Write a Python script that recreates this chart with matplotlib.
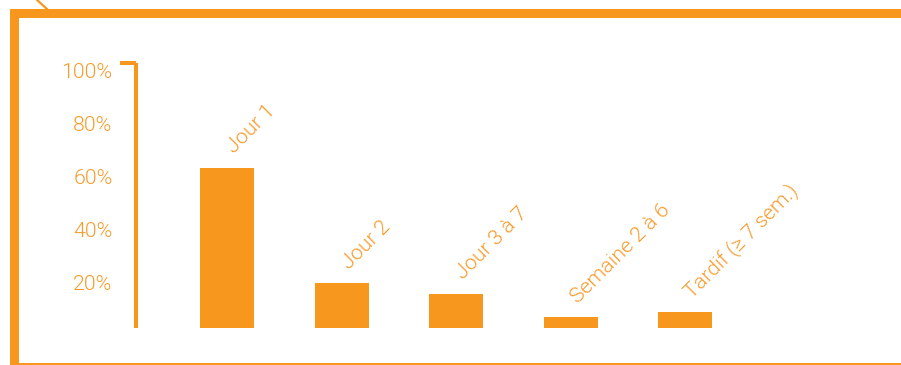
import matplotlib.pyplot as plt
from matplotlib.patches import Rectangle
from matplotlib.lines import Line2D
import matplotlib.transforms as mtransforms

# données
categories = ['Jour 1', 'Jour 2', 'Jour 3 à 7', 'Semaine 2 à 6', 'Tardif (≥ 7 sem.)']
valeurs = [60.5, 17, 13, 4, 6]
yticks = [20, 40, 60, 80, 100]
ytick_labels = ['20%', '40%', '60%', '80%', '100%']

orange = '#F7971E'
orange_txt = '#F79A2A'
poids = 300
taille = 15.3

plt.rcParams['font.family'] = ['Roboto', 'DejaVu Sans']

W, H = 901, 365
fig = plt.figure(figsize=(W / 100, H / 100), dpi=100)

def fx(px):
    return px / W

def fy(py):
    return 1 - py / H

# cadre
fig.patches.append(Rectangle((fx(10), fy(363)), fx(9), (363 - 9) / H,
                             transform=fig.transFigure, color=orange, lw=0))
fig.patches.append(Rectangle((fx(10), fy(18)), 1, 9 / H,
                             transform=fig.transFigure, color=orange, lw=0))
fig.patches.append(Rectangle((fx(10), fy(365)), 1, 2.5 / H,
                             transform=fig.transFigure, color=orange, lw=0))
fig.lines.append(Line2D([fx(36), fx(48)], [fy(-1), fy(10)],
                        transform=fig.transFigure, color=orange, lw=1.6))

# axes
ax = fig.add_axes([fx(136), fy(328), fx(880) - fx(136), (328 - 63) / H])
x = range(len(categories))
ax.bar(x, valeurs, width=0.47, color=orange)
ax.set_xlim(-0.795, 5.7)
ax.set_ylim(0, 100)

for s in ['top', 'right', 'bottom']:
    ax.spines[s].set_visible(False)
ax.spines['left'].set_color(orange)
ax.spines['left'].set_linewidth(2.9)
ax.spines['left'].set_capstyle('butt')

ax.set_xticks([])
ax.set_yticks(yticks)
ax.set_yticklabels(ytick_labels, fontsize=taille, color=orange_txt, fontweight=poids)
ax.tick_params(axis='y', length=0, pad=17)
for lab in ax.get_yticklabels():
    lab.set_va('top')

# petit trait en haut de l'axe
trans = mtransforms.blended_transform_factory(ax.transAxes, ax.transData)
cap = Line2D([-16 / (880 - 136), 0.0], [100, 100], transform=trans,
             color=orange, lw=2.9, solid_capstyle='butt', clip_on=False)
ax.add_line(cap)

# étiquettes inclinées
for i, (c, v) in enumerate(zip(categories, valeurs)):
    ax.annotate(c, (i, v), xytext=(7, 7.5), textcoords='offset points',
                rotation=45, ha='left', va='bottom', rotation_mode='anchor',
                fontsize=taille, color=orange_txt, fontweight=poids,
                annotation_clip=False)

fig.savefig('out.png', dpi=100)
